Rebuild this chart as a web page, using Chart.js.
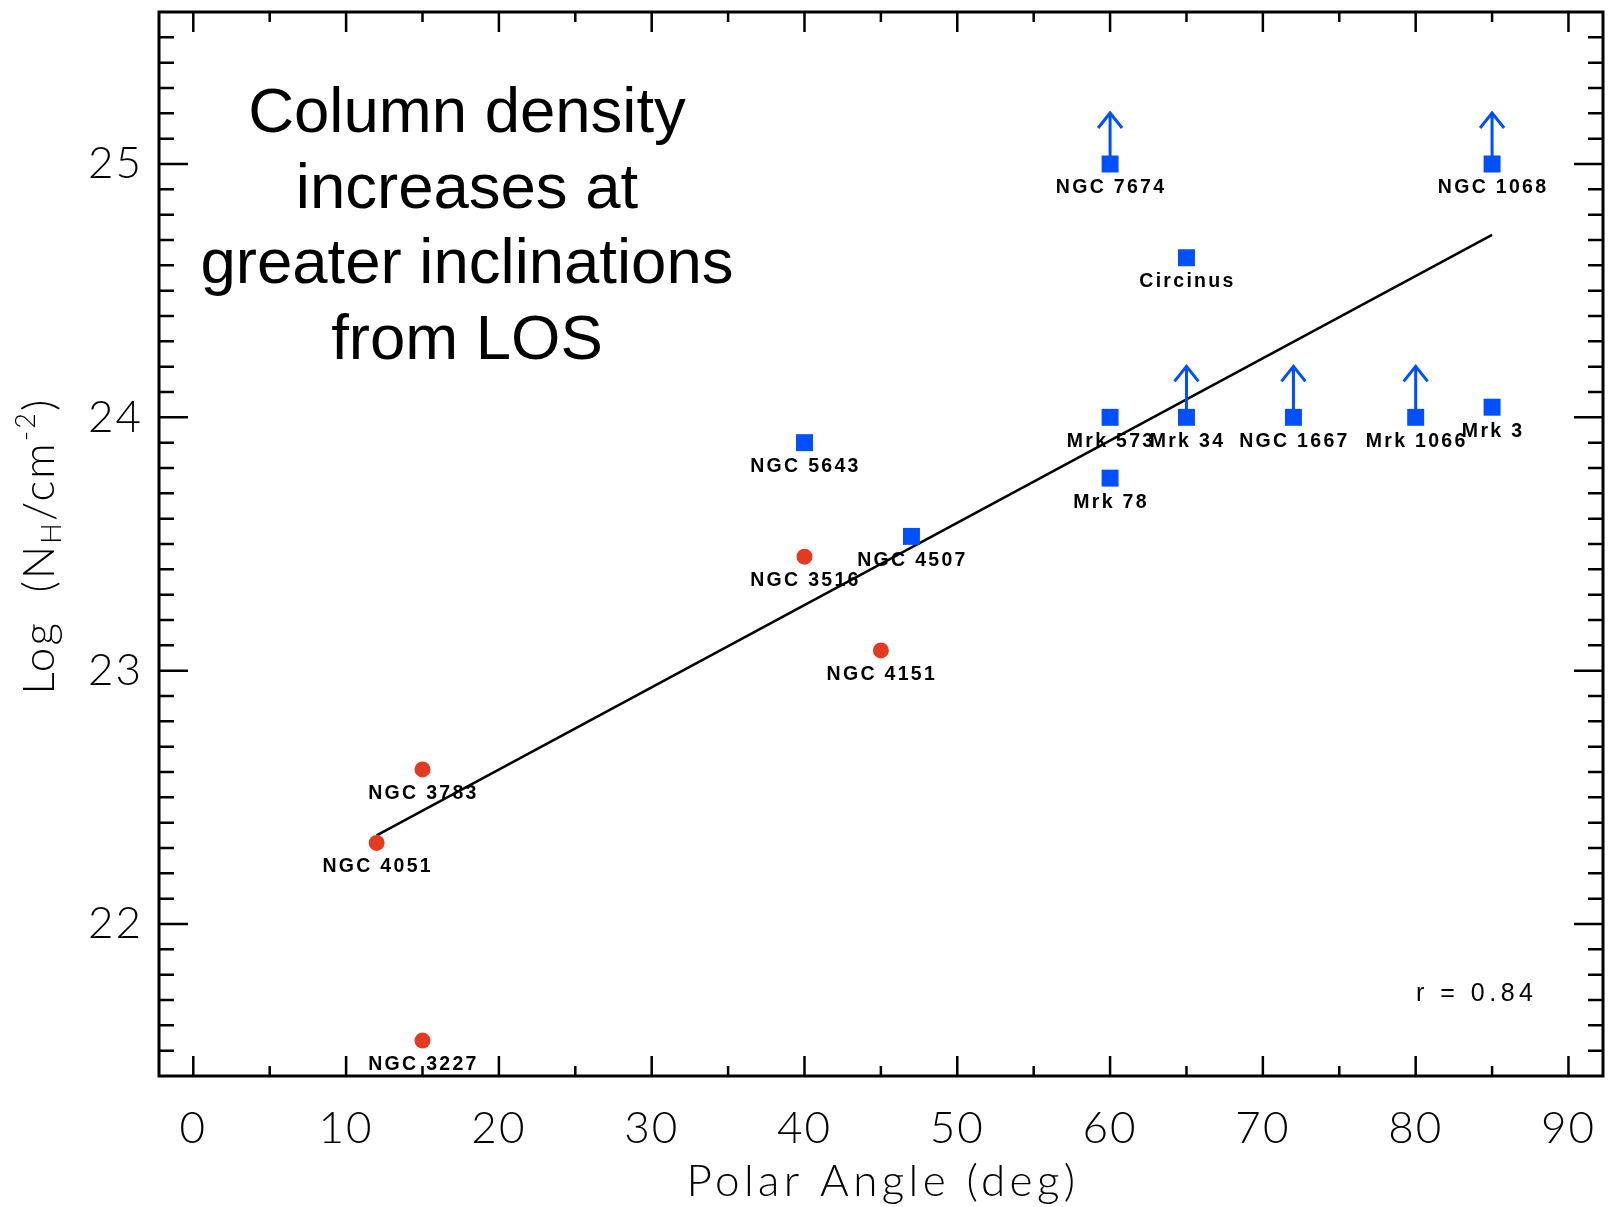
<!DOCTYPE html>
<html><head><meta charset="utf-8">
<script src="https://cdn.jsdelivr.net/npm/chart.js@4/dist/chart.umd.min.js"></script>
<style>html,body{margin:0;padding:0;background:#fff;}</style>
</head><body>
<canvas id="c" width="1612" height="1207"></canvas>
<script>
// ---- data ----
const redNames = ['NGC 4051', 'NGC 3783', 'NGC 3227', 'NGC 3516', 'NGC 4151'];
const redX = [12, 15, 15, 40, 45];
const redY = [22.32, 22.61, 21.54, 23.45, 23.08];

const blueNames = ['NGC 5643', 'NGC 4507', 'Mrk 573', 'Mrk 78', 'NGC 7674', 'Circinus', 'Mrk 34', 'NGC 1667', 'Mrk 1066', 'NGC 1068', 'Mrk 3'];
const blueX = [40, 47, 60, 60, 60, 65, 65, 72, 80, 85, 85];
const blueY = [23.90, 23.53, 24.00, 23.76, 25.00, 24.63, 24.00, 24.00, 24.00, 25.00, 24.04];
const blueLowerLimit = [false, false, false, false, true, false, true, true, true, true, false];

const fitX = [12, 85];
const fitY = [22.35, 24.72];

const xTickLabels = [0, 10, 20, 30, 40, 50, 60, 70, 80, 90];
const yTickLabels = [22, 23, 24, 25];

const xTitle = 'Polar Angle (deg)';
const yTitleParts = [['Log  (N', 'n'], ['H', 'sub'], ['/cm', 'n'], ['-2', 'sup'], [')', 'n']];
const noteLines = ['Column density', 'increases at', 'greater inclinations', 'from LOS'];
const corrText = 'r = 0.84';

// ---- styles ----
const RED = '#E23B22';
const BLUE = '#0050FF';
const AXFONT = '"Lato", "DejaVu Sans", sans-serif';

const zeroPad = (s) => { s.paddingTop = 0; s.paddingBottom = 0; s.paddingLeft = 0; s.paddingRight = 0; };

const decor = {
  id: 'decor',
  beforeDraw(chart) {
    chart.ctx.letterSpacing = '2px';
  },
  afterDatasetsDraw(chart) {
    const ctx = chart.ctx;
    const xs = chart.scales.x, ys = chart.scales.y;
    const a = chart.chartArea;
    ctx.save();
    ctx.letterSpacing = '0px';
    ctx.strokeStyle = '#000';
    ctx.lineCap = 'butt';
    // tick marks on all four sides
    ctx.lineWidth = 2.5;
    ctx.beginPath();
    for (let k = 0; k <= 90; k += 5) {
      const px = xs.getPixelForValue(k);
      const len = (k % 10 === 0) ? 20 : 10;
      ctx.moveTo(px, a.bottom); ctx.lineTo(px, a.bottom - len);
      ctx.moveTo(px, a.top); ctx.lineTo(px, a.top + len);
    }
    for (let k = 215; k <= 255; k++) {
      const py = ys.getPixelForValue(k / 10);
      const len = (k % 10 === 0) ? 29 : 15;
      ctx.moveTo(a.left, py); ctx.lineTo(a.left + len, py);
      ctx.moveTo(a.right, py); ctx.lineTo(a.right - len, py);
    }
    ctx.stroke();
    // frame
    ctx.lineWidth = 3;
    ctx.strokeRect(a.left, a.top, a.right - a.left, a.bottom - a.top);

    // lower-limit arrows
    ctx.strokeStyle = BLUE;
    ctx.lineWidth = 3;
    blueX.forEach((x, i) => {
      if (!blueLowerLimit[i]) return;
      const px = xs.getPixelForValue(x), py = ys.getPixelForValue(blueY[i]);
      const tip = py - 51;
      ctx.beginPath();
      ctx.moveTo(px, py); ctx.lineTo(px, tip);
      ctx.moveTo(px - 12, tip + 15); ctx.lineTo(px, tip); ctx.lineTo(px + 12, tip + 15);
      ctx.stroke();
    });

    // point labels
    ctx.fillStyle = '#000';
    ctx.font = 'bold 19.5px "Liberation Sans", Arial, sans-serif';
    ctx.letterSpacing = '2.3px';
    ctx.textAlign = 'center';
    ctx.textBaseline = 'middle';
    const lab = (names, X, Y) => names.forEach((n, i) => {
      ctx.fillText(n, xs.getPixelForValue(X[i]) + 1, ys.getPixelForValue(Y[i]) + 24);
    });
    lab(redNames, redX, redY);
    lab(blueNames, blueX, blueY);

    // correlation text
    ctx.font = '25px "Liberation Sans", Arial, sans-serif';
    ctx.letterSpacing = '4.5px';
    ctx.textAlign = 'left';
    ctx.textBaseline = 'alphabetic';
    ctx.fillText(corrText, 1416, 1001);

    // annotation
    ctx.font = '63.5px "Liberation Sans", Arial, sans-serif';
    ctx.letterSpacing = '0px';
    ctx.textAlign = 'center';
    noteLines.forEach((t, i) => ctx.fillText(t, 467, 132 + i * 75.7));

    // x axis title
    ctx.font = '300 44px ' + AXFONT;
    ctx.letterSpacing = '4.4px';
    ctx.textAlign = 'center';
    ctx.fillText(xTitle, (a.left + a.right) / 2 + 2, 1196);

    // y axis title (rotated, with sub/superscript)
    ctx.letterSpacing = '2.2px';
    ctx.translate(54, (a.top + a.bottom) / 2 + 2);
    ctx.rotate(-Math.PI / 2);
    ctx.textAlign = 'left';
    const fontFor = (k) => k === 'n' ? '300 44px ' + AXFONT : '300 27px ' + AXFONT;
    let total = 0;
    yTitleParts.forEach(([t, k]) => { ctx.font = fontFor(k); total += ctx.measureText(t).width; });
    let cx = -total / 2;
    yTitleParts.forEach(([t, k]) => {
      ctx.font = fontFor(k);
      const dy = k === 'sub' ? 7 : (k === 'sup' ? -19 : 0);
      ctx.fillText(t, cx, dy);
      cx += ctx.measureText(t).width;
    });
    ctx.restore();
  }
};

new Chart(document.getElementById('c'), {
  data: {
    datasets: [
      {
        type: 'line',
        data: fitX.map((x, i) => ({ x, y: fitY[i] })),
        borderColor: '#000', borderWidth: 2.5, pointRadius: 0, fill: false, order: 3
      },
      {
        type: 'scatter',
        data: redX.map((x, i) => ({ x, y: redY[i] })),
        pointStyle: 'circle', pointRadius: 8, backgroundColor: RED, borderWidth: 0, order: 1
      },
      {
        type: 'scatter',
        data: blueX.map((x, i) => ({ x, y: blueY[i] })),
        pointStyle: 'rect', pointRadius: 12, backgroundColor: BLUE, borderWidth: 0, order: 2
      }
    ]
  },
  options: {
    responsive: false,
    animation: false,
    devicePixelRatio: 1,
    layout: { autoPadding: false, padding: { top: 12, right: 9, left: 0, bottom: 0 } },
    plugins: { legend: { display: false }, tooltip: { enabled: false } },
    scales: {
      x: {
        type: 'linear', position: 'bottom', min: -2.245, max: 92.26,
        grid: { display: false }, border: { display: false },
        afterBuildTicks: (s) => { s.ticks = xTickLabels.map(v => ({ value: v })); },
        afterFit: (s) => { s.height = 131; zeroPad(s); },
        ticks: {
          autoSkip: false, maxRotation: 0, minRotation: 0, padding: 18, color: '#000',
          font: { family: AXFONT, size: 44, weight: 300 },
          callback: (v) => String(v)
        }
      },
      y: {
        type: 'linear', position: 'left', min: 21.4, max: 25.6,
        grid: { display: false }, border: { display: false },
        afterBuildTicks: (s) => { s.ticks = yTickLabels.map(v => ({ value: v })); },
        afterFit: (s) => { s.width = 159; zeroPad(s); },
        ticks: {
          autoSkip: false, padding: 8, color: '#000',
          font: { family: AXFONT, size: 44, weight: 300 },
          callback: (v) => String(v)
        }
      }
    }
  },
  plugins: [decor]
});
</script>
</body></html>
